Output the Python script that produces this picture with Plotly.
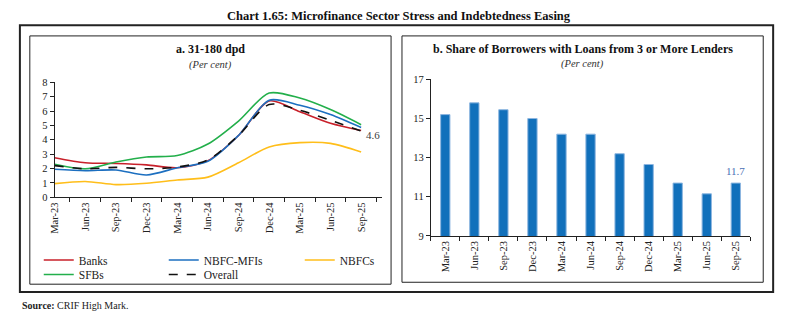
import plotly.graph_objects as go

W, H = 793, 324

quarters = ["Mar-23", "Jun-23", "Sep-23", "Dec-23", "Mar-24", "Jun-24",
            "Sep-24", "Dec-24", "Mar-25", "Jun-25", "Sep-25"]

banks = [2.75, 2.4, 2.35, 2.25, 2.05, 2.55, 4.3, 6.7, 5.95, 5.15, 4.65]
nbfc_mfis = [1.95, 1.85, 1.9, 1.55, 2.05, 2.5, 4.3, 6.75, 6.4, 5.75, 4.85]
nbfcs = [0.95, 1.1, 0.88, 0.97, 1.2, 1.4, 2.4, 3.5, 3.8, 3.75, 3.15]
sfbs = [2.3, 1.98, 2.45, 2.8, 2.9, 3.7, 5.3, 7.25, 6.9, 6.1, 5.05]
overall = [2.2, 1.98, 2.08, 1.98, 2.1, 2.6, 4.3, 6.45, 6.05, 5.35, 4.6]

share_3plus = [15.2, 15.8, 15.45, 15.0, 14.2, 14.2, 13.2, 12.65, 11.7, 11.15, 11.7]

FONT = "Liberation Serif"

def px(x):
    return x / W

def py(y):
    return 1 - y / H

fig = go.Figure()

series = [
    ("Banks", banks, "#C8202A", "solid", "legend"),
    ("NBFC-MFIs", nbfc_mfis, "#1C6FC0", "solid", "legend"),
    ("NBFCs", nbfcs, "#FFBE1A", "solid", "legend3"),
    ("SFBs", sfbs, "#23AF4B", "solid", "legend2"),
    ("Overall", overall, "#111111", "dash", "legend2"),
]
for name, vals, col, dash, leg in series:
    fig.add_trace(go.Scatter(
        x=quarters, y=vals, name=name, mode="lines",
        line=dict(color=col, width=1.6, dash=dash, shape="spline", smoothing=0.8),
        xaxis="x", yaxis="y", legend=leg))

fig.add_trace(go.Bar(
    x=quarters, y=share_3plus, name="Share", width=0.32,
    marker=dict(color="#1170BB", line=dict(color="#8DB6E0", width=1)),
    xaxis="x2", yaxis="y2", showlegend=False))

fig.add_annotation(x=quarters[-1], y=overall[-1], xref="x", yref="y",
                   text=f"{overall[-1]:.1f}", showarrow=False, xanchor="left",
                   xshift=3, yshift=-4, font=dict(family=FONT, size=11, color="#404040"))
fig.add_annotation(x=quarters[-1], y=share_3plus[-1], xref="x2", yref="y2",
                   text=f"{share_3plus[-1]:.1f}", showarrow=False, yanchor="bottom",
                   yshift=4, font=dict(family=FONT, size=11, color="#4A6FB5"))

axis_common = dict(showline=True, linecolor="#222222", linewidth=1,
                   ticks="outside", ticklen=4, tickcolor="#222222",
                   showgrid=False, zeroline=False,
                   tickfont=dict(family=FONT, size=10.5, color="#222222"))

leg_common = dict(orientation="h", xanchor="left", yanchor="top",
                  font=dict(family=FONT, size=11.5, color="#222222"),
                  bgcolor="rgba(0,0,0,0)", itemwidth=30, tracegroupgap=0)

fig.update_layout(
    width=W, height=H, margin=dict(l=0, r=0, t=0, b=0),
    paper_bgcolor="white", plot_bgcolor="white",
    font=dict(family=FONT, color="#222222"),
    xaxis=dict(domain=[px(49), px(379)], type="category", tickangle=-90,
               tickson="boundaries", anchor="y", **axis_common),
    yaxis=dict(domain=[py(199), py(80)], range=[0, 8], dtick=1, anchor="x",
               **axis_common),
    xaxis2=dict(domain=[px(428), px(750)], type="category", tickangle=-90,
                tickson="boundaries", anchor="y2", **axis_common),
    yaxis2=dict(domain=[py(239), py(77)], range=[9, 17], tick0=9, dtick=2,
                anchor="x2", **axis_common),
    legend=dict(x=px(33), y=py(249), entrywidth=80, **leg_common),
    legend2=dict(x=px(33), y=py(264), entrywidth=80, **leg_common),
    legend3=dict(x=px(296), y=py(249), entrywidth=80, **leg_common),
    showlegend=True,
)

shapes = [
    dict(type="rect", xref="paper", yref="paper", x0=px(14), x1=px(773),
         y0=py(297), y1=py(21), line=dict(color="#222222", width=2)),
    dict(type="rect", xref="paper", yref="paper", x0=px(24), x1=px(388),
         y0=py(289), y1=py(32), line=dict(color="#222222", width=1)),
    dict(type="rect", xref="paper", yref="paper", x0=px(399), x1=px(763),
         y0=py(287), y1=py(32), line=dict(color="#222222", width=1)),
]
fig.update_layout(shapes=shapes)

texts = [
    (396, 11, "<b>Chart 1.65: Microfinance Sector Stress and Indebtedness Easing</b>", 12.5, "#111111"),
    (206, 46, "<b>a. 31-180 dpd</b>", 12, "#111111"),
    (206, 62, "<i>(Per cent)</i>", 10.5, "#333333"),
    (581, 46, "<b>b. Share of Borrowers with Loans from 3 or More Lenders</b>", 12, "#111111"),
    (581, 61, "<i>(Per cent)</i>", 10.5, "#333333"),
]
for x, y, t, s, c in texts:
    fig.add_annotation(x=px(x), y=py(y), xref="paper", yref="paper", text=t,
                       showarrow=False, xanchor="center", yanchor="middle",
                       font=dict(family=FONT, size=s, color=c))

fig.add_annotation(x=px(14), y=py(311), xref="paper", yref="paper",
                   text="<b>Source:</b> CRIF High Mark.", showarrow=False,
                   xanchor="left", yanchor="middle",
                   font=dict(family=FONT, size=10, color="#222222"))

fig.write_html("out.html")
